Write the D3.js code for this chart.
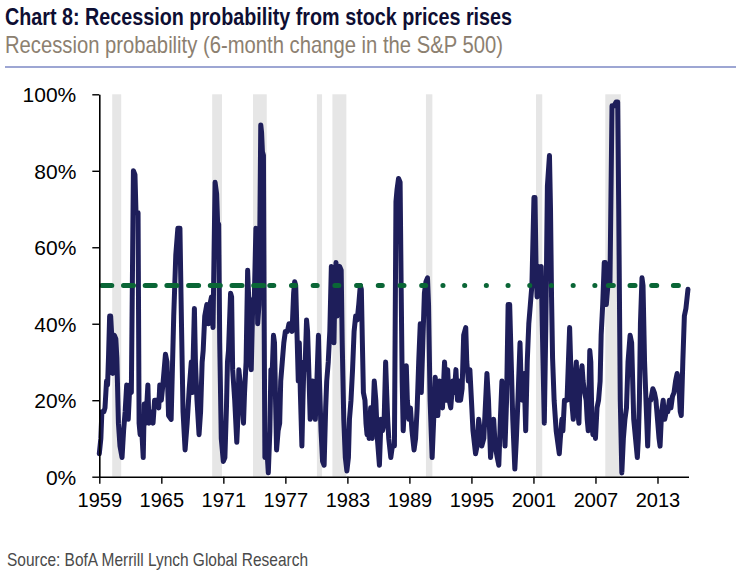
<!DOCTYPE html>
<html>
<head>
<meta charset="utf-8">
<script src="https://cdn.jsdelivr.net/npm/d3@7/dist/d3.min.js"></script>
<style>
  html, body { margin: 0; padding: 0; background: #fff; }
  svg { display: block; }
</style>
</head>
<body>
<svg id="chart" width="736" height="584"></svg>
<script>
// ---------------- DATA ----------------
const titleText = "Chart 8: Recession probability from stock prices rises";
const subtitleText = "Recession probability (6-month change in the S&P 500)";
const sourceText = "Source: BofA Merrill Lynch Global Research";

const yearTicks = [1959, 1965, 1971, 1977, 1983, 1989, 1995, 2001, 2007, 2013];
const pctTicks = [0, 20, 40, 60, 80, 100];
const threshold = 50;

// NBER recessions [start, end] as decimal years
const recessions = [
  [1960.25, 1961.12], [1969.92, 1970.87], [1973.87, 1975.2], [1980.05, 1980.55],
  [1981.55, 1982.9], [1990.6, 1991.22], [2001.25, 2001.85], [2007.95, 2009.45]
];

// Recession probability (%) by decimal year
const probability = [
  [1959.0, 6], [1959.15, 10], [1959.25, 17], [1959.45, 17], [1959.55, 18], [1959.7, 25], [1959.8, 24], [1959.9, 32],
  [1960.0, 42], [1960.1, 42], [1960.2, 37], [1960.3, 27], [1960.45, 37], [1960.6, 36], [1960.7, 31], [1960.85, 14],
  [1961.0, 8], [1961.2, 5], [1961.35, 12], [1961.5, 17], [1961.65, 24], [1961.8, 15], [1961.95, 24], [1962.1, 22],
  [1962.3, 80], [1962.45, 79], [1962.55, 69], [1962.75, 69], [1962.85, 14], [1962.95, 11], [1963.05, 15], [1963.25, 5],
  [1963.35, 19], [1963.5, 14], [1963.7, 24], [1963.8, 14], [1963.95, 17], [1964.2, 14], [1964.35, 20], [1964.55, 20],
  [1964.75, 18], [1964.85, 24], [1965.0, 20], [1965.15, 24], [1965.4, 32], [1965.55, 30], [1965.7, 16], [1965.95, 15],
  [1966.2, 42], [1966.4, 58], [1966.6, 65], [1966.8, 65], [1966.95, 40], [1967.1, 17], [1967.3, 7], [1967.5, 14],
  [1967.7, 23], [1967.9, 30], [1968.0, 22], [1968.2, 44], [1968.3, 30], [1968.45, 20], [1968.65, 11], [1968.8, 17],
  [1968.95, 30], [1969.05, 33], [1969.2, 42], [1969.4, 45], [1969.55, 40], [1969.7, 45], [1969.85, 47], [1970.0, 39],
  [1970.2, 77], [1970.35, 74], [1970.45, 66], [1970.55, 66], [1970.65, 35], [1970.8, 10], [1971.0, 4], [1971.15, 5],
  [1971.3, 18], [1971.4, 30], [1971.5, 33], [1971.7, 48], [1971.8, 47], [1971.9, 28], [1972.0, 24], [1972.1, 20],
  [1972.3, 9], [1972.4, 15], [1972.5, 28], [1972.65, 24], [1972.8, 20], [1972.95, 14], [1973.05, 22], [1973.2, 30],
  [1973.35, 54], [1973.45, 47], [1973.6, 30], [1973.7, 28], [1973.85, 46], [1974.0, 47], [1974.15, 65], [1974.25, 55],
  [1974.32, 40], [1974.45, 45], [1974.52, 62], [1974.62, 92], [1974.7, 90], [1974.78, 85], [1974.88, 84], [1974.95, 40],
  [1975.02, 5], [1975.15, 10], [1975.35, 1], [1975.5, 12], [1975.6, 28], [1975.7, 25], [1975.85, 37], [1975.95, 35],
  [1976.05, 20], [1976.15, 7], [1976.3, 12], [1976.45, 14], [1976.55, 25], [1976.7, 30], [1976.85, 35], [1977.0, 38],
  [1977.2, 38], [1977.35, 40], [1977.5, 40], [1977.65, 38], [1977.8, 48], [1977.9, 51], [1978.0, 50], [1978.1, 40],
  [1978.25, 25], [1978.35, 35], [1978.45, 22], [1978.6, 8], [1978.7, 20], [1978.8, 30], [1978.9, 28], [1979.05, 41],
  [1979.15, 38], [1979.3, 25], [1979.4, 15], [1979.55, 22], [1979.65, 25], [1979.75, 18], [1979.9, 15], [1980.05, 25],
  [1980.2, 37], [1980.3, 25], [1980.45, 12], [1980.6, 4], [1980.75, 3], [1980.9, 18], [1981.0, 25], [1981.15, 30],
  [1981.3, 38], [1981.45, 55], [1981.6, 54], [1981.7, 35], [1981.8, 50], [1981.9, 56], [1982.0, 42], [1982.1, 50],
  [1982.25, 55], [1982.4, 54], [1982.5, 35], [1982.65, 15], [1982.8, 5], [1982.95, 1.5], [1983.1, 5], [1983.2, 15],
  [1983.35, 20], [1983.5, 28], [1983.65, 38], [1983.8, 42], [1983.95, 41], [1984.1, 45], [1984.25, 50], [1984.35, 49],
  [1984.45, 35], [1984.55, 22], [1984.7, 20], [1984.8, 14], [1984.9, 11], [1985.0, 15], [1985.1, 10], [1985.25, 18],
  [1985.4, 10], [1985.6, 25], [1985.75, 20], [1985.9, 10], [1986.1, 3], [1986.25, 15], [1986.4, 12], [1986.55, 14],
  [1986.7, 30], [1986.8, 22], [1986.9, 15], [1987.0, 10], [1987.2, 5], [1987.35, 8], [1987.55, 8], [1987.7, 72],
  [1987.8, 75], [1987.95, 78], [1988.1, 77], [1988.2, 50], [1988.3, 25], [1988.4, 12], [1988.55, 20], [1988.7, 29],
  [1988.8, 20], [1988.95, 15], [1989.1, 18], [1989.25, 12], [1989.45, 7], [1989.6, 10], [1989.75, 18], [1989.9, 30],
  [1990.05, 40], [1990.15, 22], [1990.3, 35], [1990.45, 48], [1990.6, 51], [1990.75, 52], [1990.85, 45], [1991.0, 20],
  [1991.2, 5], [1991.35, 15], [1991.5, 26], [1991.6, 20], [1991.75, 16], [1991.9, 25], [1992.05, 20], [1992.2, 18],
  [1992.4, 30], [1992.55, 20], [1992.7, 28], [1992.85, 20], [1993.0, 18], [1993.2, 25], [1993.35, 22], [1993.5, 28],
  [1993.65, 20], [1993.8, 25], [1993.95, 20], [1994.1, 23], [1994.25, 37], [1994.45, 39], [1994.55, 30], [1994.7, 25],
  [1994.85, 28], [1995.0, 20], [1995.15, 12], [1995.4, 6], [1995.55, 8], [1995.7, 15], [1995.85, 12], [1996.0, 8],
  [1996.2, 10], [1996.5, 27], [1996.65, 20], [1996.85, 5], [1997.0, 10], [1997.15, 15], [1997.3, 8], [1997.5, 5],
  [1997.65, 3], [1997.8, 15], [1997.95, 25], [1998.1, 20], [1998.25, 8], [1998.4, 20], [1998.55, 45], [1998.7, 45],
  [1998.85, 30], [1999.0, 15], [1999.2, 2], [1999.35, 10], [1999.5, 20], [1999.7, 35], [1999.8, 25], [1999.95, 20],
  [2000.1, 27], [2000.25, 12], [2000.4, 30], [2000.55, 40], [2000.7, 45], [2000.85, 50], [2001.05, 73], [2001.15, 73],
  [2001.25, 55], [2001.35, 47], [2001.5, 55], [2001.6, 48], [2001.75, 55], [2001.85, 40], [2002.05, 14], [2002.2, 40],
  [2002.35, 76], [2002.55, 84], [2002.65, 70], [2002.75, 47], [2002.85, 31], [2003.0, 20], [2003.2, 12], [2003.5, 6],
  [2003.6, 10], [2003.75, 15], [2003.85, 12], [2004.0, 20], [2004.25, 20], [2004.5, 39], [2004.6, 30], [2004.7, 20],
  [2004.85, 15], [2005.0, 25], [2005.15, 30], [2005.25, 18], [2005.4, 14], [2005.5, 25], [2005.7, 29], [2005.8, 25],
  [2005.95, 22], [2006.1, 20], [2006.2, 15], [2006.3, 12], [2006.45, 33], [2006.55, 30], [2006.65, 15], [2006.75, 11],
  [2006.9, 15], [2007.0, 10], [2007.15, 18], [2007.3, 20], [2007.45, 25], [2007.55, 37], [2007.7, 45], [2007.85, 56],
  [2007.95, 56], [2008.05, 45], [2008.2, 50], [2008.4, 50], [2008.6, 97], [2008.8, 97], [2009.0, 98], [2009.15, 98],
  [2009.25, 70], [2009.4, 20], [2009.55, 1], [2009.7, 10], [2009.85, 15], [2010.0, 18], [2010.15, 30], [2010.35, 37],
  [2010.5, 35], [2010.7, 15], [2011.05, 5], [2011.15, 10], [2011.25, 20], [2011.35, 40], [2011.5, 52], [2011.6, 50],
  [2011.75, 30], [2012.05, 8], [2012.2, 20], [2012.35, 20], [2012.55, 23], [2012.7, 22], [2012.85, 20], [2013.0, 15],
  [2013.15, 10], [2013.25, 8], [2013.4, 17], [2013.55, 20], [2013.7, 15], [2013.85, 17], [2014.0, 17], [2014.15, 20],
  [2014.3, 18], [2014.45, 21], [2014.6, 22], [2014.75, 25], [2014.9, 27], [2015.05, 25], [2015.2, 17], [2015.3, 16],
  [2015.45, 30], [2015.6, 42], [2015.75, 44], [2015.95, 49]
];

// ---------------- DRAWING ----------------
const svg = d3.select("#chart");
const plot = { left: 99.3, right: 688.5, top: 94.3, bottom: 476.7 };

const x = d3.scaleLinear().domain([1959, 2016]).range([plot.left, plot.right]);
const y = d3.scaleLinear().domain([0, 100]).range([plot.bottom, plot.top]);

function fitText(sel, width) {
  sel.attr("textLength", width).attr("lengthAdjust", "spacingAndGlyphs");
}
const condensed = "'Liberation Sans Narrow', 'Arial Narrow', 'Liberation Sans', Arial, sans-serif";
svg.append("text").attr("x", 5).attr("y", 25)
  .attr("font-family", condensed).attr("font-weight", "bold").attr("font-size", 23.5)
  .attr("fill", "#0e0e33").text(titleText).call(fitText, 507);
svg.append("text").attr("x", 5).attr("y", 53)
  .attr("font-family", condensed).attr("font-weight", "normal").attr("font-size", 24)
  .attr("fill", "#8c8070").text(subtitleText).call(fitText, 498);
svg.append("line").attr("x1", 5).attr("x2", 736).attr("y1", 67).attr("y2", 67)
  .attr("stroke", "#7c88c4").attr("stroke-width", 1.5);

// Recession shading
svg.append("g").selectAll("rect").data(recessions).join("rect")
  .attr("x", d => x(d[0])).attr("width", d => x(d[1]) - x(d[0]))
  .attr("y", y(100)).attr("height", y(0) - y(100))
  .attr("fill", "#e6e6e6");

// Probability line
const line = d3.line().x(d => x(d[0])).y(d => y(d[1]));
svg.append("path").datum(probability)
  .attr("d", line)
  .attr("fill", "none")
  .attr("stroke", "#1e1e5a")
  .attr("stroke-width", 5)
  .attr("stroke-linejoin", "round")
  .attr("stroke-linecap", "round");

// 50% threshold line (dash style varies along the line as in the original)
const thresholdPieces = [
  { from: 1959, to: 1975.25, dash: "10 11.7" },
  { from: 1975.25, to: 1992.0, dash: "4 17.7" },
  { from: 1992.0, to: 2008.0, dash: "0.1 21.6" },
  { from: 2008.0, to: 2016.0, dash: "5 16.7" }
];
svg.append("g").selectAll("line").data(thresholdPieces).join("line")
  .attr("x1", d => x(d.from) + 2.5).attr("x2", d => x(d.to))
  .attr("y1", y(threshold)).attr("y2", y(threshold))
  .attr("stroke", "#0a6636").attr("stroke-width", 5)
  .attr("stroke-linecap", "round")
  .attr("stroke-dasharray", d => d.dash);

// Axes
const axisFont = "'Liberation Sans', Arial, sans-serif";
const yAxis = svg.append("g").attr("transform", `translate(${plot.left},0)`)
  .call(d3.axisLeft(y).tickValues(pctTicks).tickFormat(d => d + "%").tickSize(7).tickSizeOuter(0).tickPadding(16));
const xAxis = svg.append("g").attr("transform", `translate(0,${plot.bottom})`)
  .call(d3.axisBottom(x).tickValues(yearTicks).tickFormat(d3.format("d")).tickSize(7).tickSizeOuter(0).tickPadding(8));
[yAxis, xAxis].forEach(g => {
  g.select(".domain").attr("stroke", "#000").attr("stroke-width", 1.6);
  g.selectAll(".tick line").attr("stroke", "#000").attr("stroke-width", 1.4);
  g.selectAll(".tick text").attr("font-family", axisFont).attr("fill", "#000");
});
yAxis.selectAll(".tick text").attr("font-size", 21).attr("dy", "0.36em");
xAxis.selectAll(".tick text").attr("font-size", 20).attr("dy", "0.75em");

// Source
svg.append("text").attr("x", 7).attr("y", 566)
  .attr("font-family", condensed).attr("font-size", 18.5)
  .attr("fill", "#4a4a4a").text(sourceText).call(fitText, 301);
</script>
</body>
</html>
